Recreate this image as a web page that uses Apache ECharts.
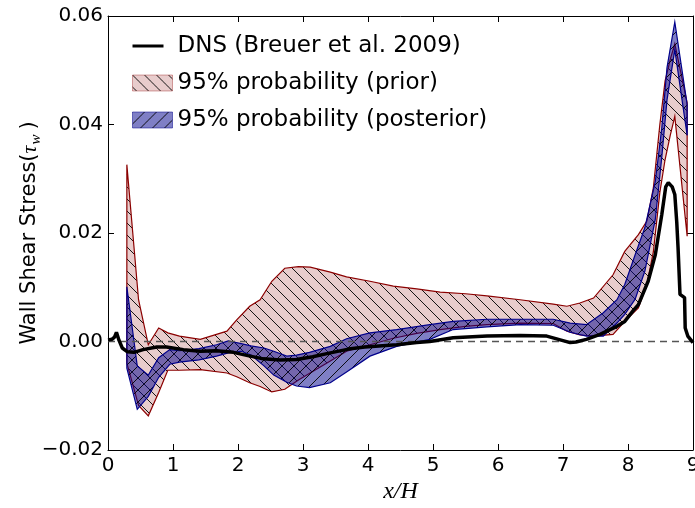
<!DOCTYPE html>
<html><head><meta charset="utf-8">
<script src="https://cdn.jsdelivr.net/npm/echarts@6/dist/echarts.min.js"></script>
<style>html,body{margin:0;padding:0;background:#fff}#c{width:695px;height:508px}</style>
</head><body><div id="c"></div>
<script>
// ---------- data ----------
const xTicks = [0,1,2,3,4,5,6,7,8,9];
const yTicks = [-0.02,0,0.02,0.04,0.06];
const yTickLabels = ['\u22120.02','0.00','0.02','0.04','0.06'];

const legendNames = ['DNS (Breuer et al. 2009)','95% probability (prior)','95% probability (posterior)'];

const dnsX = [0,0.06,0.1,0.13,0.17,0.22,0.3,0.4,0.54,0.75,0.9,1.16,1.42,1.67,1.93,2.15,2.39,2.65,2.9,3.15,3.42,3.7,3.95,4.44,4.75,4.95,5.31,5.83,6.34,6.75,6.93,7.11,7.2,7.36,7.57,7.83,7.95,8.08,8.16,8.31,8.42,8.52,8.58,8.62,8.68,8.72,8.75,8.77,8.8,8.87,8.88,8.92,9.0];
const dnsY = [0.0003,0.0004,0.0008,0.0017,0.0002,-0.0012,-0.0019,-0.002,-0.0015,-0.001,-0.001,-0.0015,-0.0018,-0.0017,-0.002,-0.0026,-0.0032,-0.0034,-0.0033,-0.0028,-0.0021,-0.0014,-0.001,-0.0006,-0.0002,0.0,0.0007,0.001,0.0011,0.001,0.0004,-0.0002,-0.0001,0.0004,0.0013,0.0028,0.0037,0.0057,0.0068,0.0111,0.016,0.0234,0.0285,0.0293,0.0285,0.0271,0.022,0.0173,0.0087,0.0081,0.0025,0.001,-0.0002];

const priorX = [0.29,0.47,0.62,0.78,0.92,1.1,1.42,1.83,1.98,2.18,2.34,2.52,2.72,2.93,3.11,3.42,3.67,4.03,4.39,4.75,5.11,5.5,5.83,6.34,6.85,7.06,7.26,7.47,7.77,7.95,8.16,8.29,8.39,8.49,8.57,8.65,8.72,8.91];
const priorUpper = [0.0326,0.0077,-0.0006,0.0025,0.0016,0.001,0.0004,0.0019,0.004,0.0065,0.0077,0.0111,0.0135,0.0138,0.0137,0.0128,0.0119,0.0111,0.0102,0.0097,0.0091,0.0088,0.0084,0.0077,0.0069,0.0065,0.0071,0.008,0.0123,0.0166,0.0197,0.0222,0.0283,0.04,0.048,0.052,0.0549,0.044];
const priorLower = [-0.004,-0.0118,-0.0137,-0.0094,-0.0053,-0.0053,-0.0052,-0.0058,-0.0065,-0.0076,-0.0083,-0.0093,-0.0088,-0.0071,-0.0058,-0.0036,-0.0018,-0.0006,0.0006,0.0015,0.0022,0.0028,0.0031,0.0034,0.0033,0.0019,0.0012,0.001,0.0013,0.0037,0.0062,0.0105,0.0165,0.0275,0.0335,0.038,0.0415,0.0194];

const postX = [0.29,0.45,0.62,0.78,0.95,1.1,1.4,1.67,1.85,2.05,2.2,2.4,2.55,2.75,2.9,3.1,3.42,3.67,4.03,4.44,4.95,5.31,5.83,6.34,6.85,7.11,7.36,7.62,7.83,7.95,8.11,8.26,8.42,8.52,8.6,8.72,8.91];
const postUpper = [0.0101,-0.0045,-0.0062,-0.003,-0.0015,-0.0017,-0.0013,-0.0006,0.0001,-0.0004,-0.0008,-0.0012,-0.0018,-0.0027,-0.0025,-0.002,-0.0009,0.0005,0.0016,0.0022,0.0031,0.0037,0.0041,0.0041,0.0041,0.0034,0.0031,0.0053,0.0077,0.0105,0.016,0.021,0.0295,0.0394,0.0505,0.0589,0.0437];
const postLower = [-0.0049,-0.0125,-0.0101,-0.0066,-0.0042,-0.0038,-0.0034,-0.0027,-0.0021,-0.0018,-0.0025,-0.0045,-0.0062,-0.0075,-0.0082,-0.0085,-0.0076,-0.0056,-0.0027,-0.0009,0.0004,0.0022,0.0027,0.0031,0.003,0.0017,0.001,0.001,0.0034,0.005,0.0078,0.013,0.0225,0.034,0.0445,0.0538,0.038];

// ---------- hatch patterns ----------
function makeHatch(bg, dir, s, lineColor, lw) {
  const c = document.createElement('canvas');
  c.width = s; c.height = s;
  const g = c.getContext('2d');
  g.fillStyle = bg; g.fillRect(0,0,s,s);
  g.strokeStyle = lineColor; g.lineWidth = lw;
  g.beginPath();
  for (let k=-1;k<=1;k++) {
    if (dir === '\\') { g.moveTo(k*s, 0); g.lineTo(k*s+s, s); }
    else { g.moveTo(k*s, s); g.lineTo(k*s+s, 0); }
  }
  g.stroke();
  return {image: c, repeat: 'repeat'};
}
const priorFill = makeHatch('rgba(139,0,0,0.2)', '\\', 12, 'rgba(0,0,0,0.9)', 1);
const postFill = makeHatch('rgba(0,0,139,0.5)', '/', 12, 'rgba(0,0,0,0.9)', 1);

function bandSeries(name, xs, up, lo, fill, stroke, z) {
  return {
    type: 'custom', name: name, coordinateSystem: 'cartesian2d', z: z, clip: true,
    itemStyle: {color: fill},
    data: xs.map((x,i) => [x, up[i], lo[i]]),
    encode: {x: 0, y: [1,2]},
    renderItem: function (params, api) {
      if (params.dataIndex !== 0) return null;
      const pts = [];
      for (let i=0;i<xs.length;i++) pts.push(api.coord([xs[i], up[i]]));
      for (let i=xs.length-1;i>=0;i--) pts.push(api.coord([xs[i], lo[i]]));
      return {type: 'polygon', shape: {points: pts}, style: {fill: fill, stroke: stroke, lineWidth: 1.2}};
    }
  };
}

const chart = echarts.init(document.getElementById('c'), null, {renderer: 'canvas'});
const axisCommon = {
  axisLine: {show: true, onZero: false, lineStyle: {color: '#000', width: 1}},
  axisTick: {show: true, inside: true, length: 6, lineStyle: {color: '#000', width: 1}},
  splitLine: {show: false}
};
const sans = 'DejaVu Sans';
const option = {
  animation: false,
  backgroundColor: '#fff',
  grid: {left: 108, right: 2, top: 16, bottom: 58, containLabel: false, outerBoundsMode: 'none'},
  legend: {
    orient: 'vertical', left: 127, top: 29, itemWidth: 40, itemHeight: 16, itemGap: 13,
    textStyle: {fontFamily: sans, fontSize: 23, color: '#000', lineHeight: 24, padding: [0,0,0,0]},
    data: [
      {name: legendNames[0], icon: 'path://M0,0 M40,16 M0,6.5 H31 V9.5 H0 Z', itemStyle: {color: '#000'}},
      {name: legendNames[1], icon: 'rect', itemStyle: {color: priorFill, borderColor: 'rgba(139,0,0,0.35)', borderWidth: 1}},
      {name: legendNames[2], icon: 'rect', itemStyle: {color: postFill, borderColor: 'rgba(0,0,139,0.5)', borderWidth: 1}}
    ]
  },
  xAxis: [
    Object.assign({
      type: 'value', min: 0, max: 9, interval: 1, position: 'bottom',
      name: 'x/H', nameLocation: 'middle', nameGap: 30, nameMoveOverlap: false,
      nameTextStyle: {fontFamily: 'Liberation Serif', fontStyle: 'italic', fontSize: 24, color: '#000'},
      axisLabel: {fontFamily: sans, fontSize: 20, color: '#000', margin: 6,
        formatter: v => String(xTicks[Math.round(v)])}
    }, axisCommon),
    Object.assign({
      type: 'value', min: 0, max: 9, interval: 1, position: 'top', axisLabel: {show: false}
    }, axisCommon)
  ],
  yAxis: [
    Object.assign({
      type: 'value', min: -0.02, max: 0.06, interval: 0.02, position: 'left',
      name: '{a|Wall Shear Stress(}{b|\u03C4}{c|w}{a|)}', nameLocation: 'middle', nameGap: 64, nameRotate: 90,
      nameMoveOverlap: false,
      nameTextStyle: {
        rich: {
          a: {fontFamily: sans, fontSize: 21, color: '#000', lineHeight: 28},
          b: {fontFamily: 'Liberation Serif', fontStyle: 'italic', fontSize: 22, color: '#000', lineHeight: 28},
          c: {fontFamily: 'Liberation Serif', fontStyle: 'italic', fontSize: 15, color: '#000', lineHeight: 15, verticalAlign: 'bottom', padding: [0,5,0,1]}
        }
      },
      axisLabel: {fontFamily: sans, fontSize: 20, color: '#000', margin: 5,
        formatter: v => { const i = yTicks.findIndex(t => Math.abs(t - v) < 1e-9); return i >= 0 ? yTickLabels[i] : ''; }}
    }, axisCommon),
    Object.assign({
      type: 'value', min: -0.02, max: 0.06, interval: 0.02, position: 'right', axisLabel: {show: false}
    }, axisCommon)
  ],
  series: [
    bandSeries(legendNames[1], priorX, priorUpper, priorLower, priorFill, '#8b0000', 2),
    bandSeries(legendNames[2], postX, postUpper, postLower, postFill, '#00008b', 3),
    {
      type: 'line', name: 'zero', data: [[0,0],[9,0]], symbol: 'none', z: 4, silent: true,
      lineStyle: {color: '#555', width: 1.5, type: [7,5]}
    },
    {
      type: 'line', name: legendNames[0], data: dnsX.map((x,i) => [x, dnsY[i]]), symbol: 'none', z: 5,
      lineStyle: {color: '#000', width: 3.5}, itemStyle: {color: '#000'}
    }
  ]
};
chart.setOption(option);
</script>
</body></html>
